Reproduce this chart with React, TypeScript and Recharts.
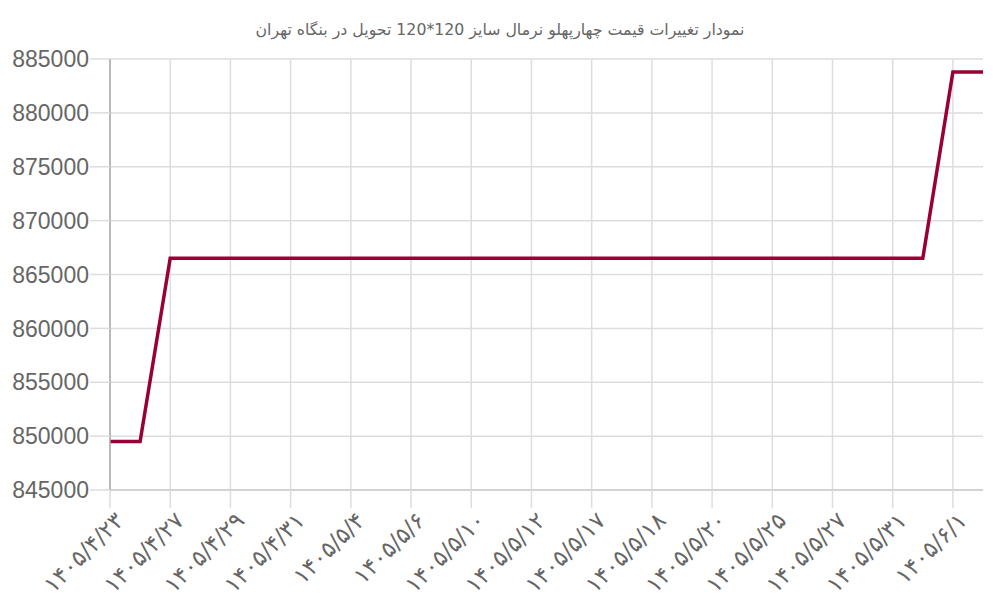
import React from 'react';
import {
  LineChart,
  Line,
  XAxis,
  YAxis,
  CartesianGrid,
  ReferenceLine,
} from 'recharts';

const title = 'نمودار تغییرات قیمت چهارپهلو نرمال سایز 120*120 تحویل در بنگاه تهران';

const dates = [
  '۱۴۰۵/۴/۲۳', '۱۴۰۵/۴/۲۶', '۱۴۰۵/۴/۲۷', '۱۴۰۵/۴/۲۸', '۱۴۰۵/۴/۲۹',
  '۱۴۰۵/۴/۳۰', '۱۴۰۵/۴/۳۱', '۱۴۰۵/۵/۳', '۱۴۰۵/۵/۴', '۱۴۰۵/۵/۵',
  '۱۴۰۵/۵/۶', '۱۴۰۵/۵/۷', '۱۴۰۵/۵/۱۰', '۱۴۰۵/۵/۱۱', '۱۴۰۵/۵/۱۲',
  '۱۴۰۵/۵/۱۴', '۱۴۰۵/۵/۱۷', '۱۴۰۵/۵/۱۷', '۱۴۰۵/۵/۱۸', '۱۴۰۵/۵/۱۹',
  '۱۴۰۵/۵/۲۰', '۱۴۰۵/۵/۲۴', '۱۴۰۵/۵/۲۵', '۱۴۰۵/۵/۲۶', '۱۴۰۵/۵/۲۷',
  '۱۴۰۵/۵/۲۸', '۱۴۰۵/۵/۳۱', '۱۴۰۵/۵/۳۱', '۱۴۰۵/۶/۱', '۱۴۰۵/۶/۲',
];

const prices = [
  849500, 849500, 866500, 866500, 866500,
  866500, 866500, 866500, 866500, 866500,
  866500, 866500, 866500, 866500, 866500,
  866500, 866500, 866500, 866500, 866500,
  866500, 866500, 866500, 866500, 866500,
  866500, 866500, 866500, 883800, 883800,
];

const yTicks = [845000, 850000, 855000, 860000, 865000, 870000, 875000, 880000, 885000];

const data = dates.map((d, i) => ({ idx: i, date: d, price: prices[i] }));
const labelled = data.filter((d) => d.idx % 2 === 0);

function DateTick(props: any) {
  const { x, y, payload } = props;
  return (
    <text
      x={x}
      y={y}
      transform={`rotate(-45, ${x}, ${y})`}
      textAnchor="end"
      dy="0.9em"
      dx={1}
      fill="#666"
      fontSize={23}
      fontFamily="DejaVu Sans"
      direction="ltr"
    >
      {dates[payload.value]}
    </text>
  );
}

export default function App() {
  return (
    <div style={{ position: 'absolute', left: 0, top: 0, width: 1000, height: 600, background: '#fff' }}>
      <div
        style={{
          position: 'absolute',
          top: 20,
          left: 0,
          width: 1000,
          textAlign: 'center',
          fontFamily: 'DejaVu Sans',
          fontSize: 15.75,
          color: '#666',
          direction: 'rtl',
        }}
      >
        {title}
      </div>
      <LineChart
        width={1000}
        height={600}
        data={data}
        margin={{ top: 59, right: 17, bottom: 0, left: 0 }}
      >
        <CartesianGrid vertical={false} stroke="#ddd" strokeWidth={1.5} />
        {labelled.map((d) => (
          <ReferenceLine key={d.idx} x={d.idx} stroke="#ddd" strokeWidth={1.5} />
        ))}
        <XAxis
          dataKey="idx"
          type="category"
          height={110}
          interval={1}
          tickSize={18}
          tickLine={{ stroke: '#ddd', strokeWidth: 1.5 }}
          axisLine={{ stroke: '#ccc', strokeWidth: 1.5 }}
          tick={<DateTick />}
          tickMargin={0}
        />
        <YAxis
          width={110}
          domain={[845000, 885000]}
          ticks={yTicks}
          interval={0}
          tickSize={20}
          tickMargin={1}
          tickLine={{ stroke: '#ddd', strokeWidth: 1.5 }}
          axisLine={{ stroke: '#aaa', strokeWidth: 1.5 }}
          tick={{ fill: '#666', fontSize: 23, fontFamily: 'Liberation Sans' }}
        />
        <Line
          type="linear"
          dataKey="price"
          stroke="#990033"
          strokeWidth={3.5}
          dot={false}
          isAnimationActive={false}
        />
      </LineChart>
    </div>
  );
}
